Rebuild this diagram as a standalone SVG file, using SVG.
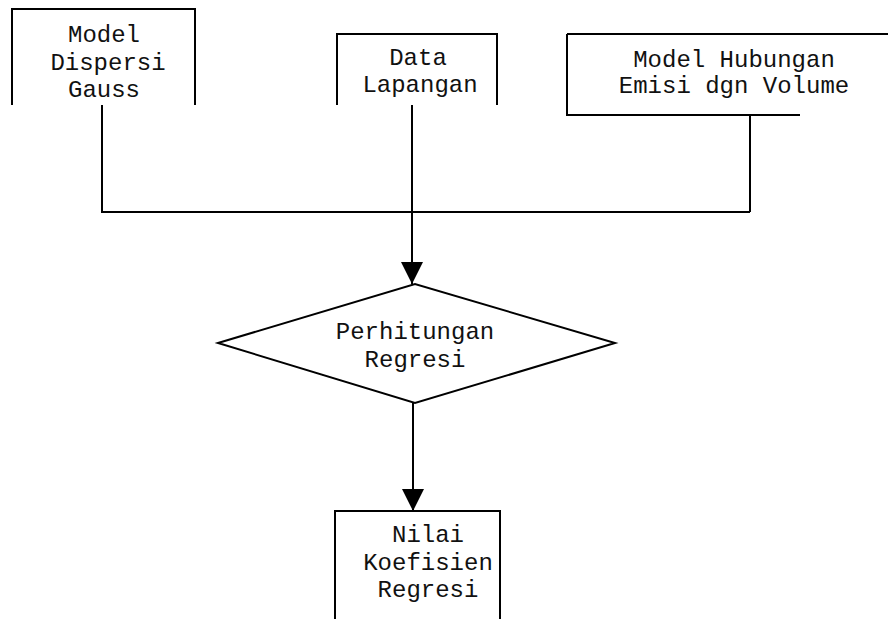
<svg xmlns="http://www.w3.org/2000/svg" width="888" height="619" viewBox="0 0 888 619">
<defs>
<style>
.s{fill:none;stroke:#000;stroke-width:2}
.t{font-family:"Courier New","Liberation Mono",monospace;font-size:24px;fill:#111;text-anchor:middle}
</style>
<marker id="ah" markerWidth="22" markerHeight="22" refX="22" refY="11" orient="auto" markerUnits="userSpaceOnUse" viewBox="0 0 22 22">
<path d="M0,0 L22,11 L0,22 z" fill="#000"/>
</marker>
</defs>
<rect width="888" height="619" fill="#fff"/>
<g id="n1">
<path class="s" d="M12,105 V9 H195 V105"/>
<text class="t" x="104" y="42">Model</text>
<text class="t" x="108" y="70">Dispersi</text>
<text class="t" x="104" y="97">Gauss</text>
</g>
<g id="n2">
<path class="s" d="M337,105 V34 H497 V105"/>
<text class="t" x="418" y="65">Data</text>
<text class="t" x="420" y="92">Lapangan</text>
</g>
<g id="n3">
<path class="s" d="M567,34 H888 M567,34 V115 H800"/>
<text class="t" x="734" y="67">Model Hubungan</text>
<text class="t" x="734" y="93">Emisi dgn Volume</text>
</g>
<g id="n4">
<path class="s" d="M218,343 L415,284 L615,343 L415,403 Z"/>
<text class="t" x="415" y="339">Perhitungan</text>
<text class="t" x="415" y="367">Regresi</text>
</g>
<g id="n5">
<path class="s" d="M335,619 V511 H500 V619"/>
<text class="t" x="428" y="542">Nilai</text>
<text class="t" x="428" y="570">Koefisien</text>
<text class="t" x="428" y="597">Regresi</text>
</g>
<g id="connectors">
<path class="s" d="M102,105 V212 H750 M750,115 V212"/>
<path class="s" d="M412,105 V284" marker-end="url(#ah)"/>
<path class="s" d="M413,403 V511" marker-end="url(#ah)"/>
</g>
</svg>
